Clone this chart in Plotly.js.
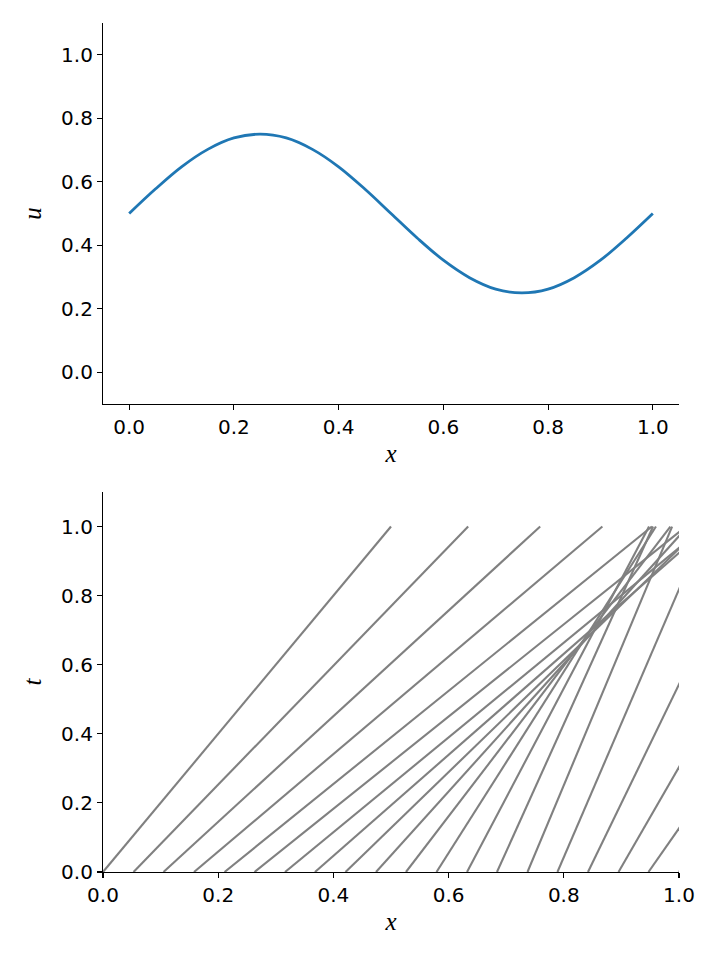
<!DOCTYPE html>
<html>
<head>
<meta charset="utf-8">
<script src="https://cdn.plot.ly/plotly-3.0.1.min.js"></script>
<style>html,body{margin:0;padding:0;background:#fff;}#chart{width:720px;height:960px;}</style>
</head>
<body>
<div id="chart"></div>
<script>
// Top panel: initial profile u(x)
var profileX = [0, 0.05, 0.1, 0.15, 0.2, 0.25, 0.3, 0.35, 0.4, 0.45, 0.5, 0.55, 0.6, 0.65, 0.7, 0.75, 0.8, 0.85, 0.9, 0.95, 1.0];
var profileU = [0.5, 0.577, 0.647, 0.702, 0.738, 0.75, 0.738, 0.702, 0.647, 0.577, 0.5, 0.423, 0.353, 0.298, 0.262, 0.25, 0.262, 0.298, 0.353, 0.423, 0.5];

// Bottom panel: characteristics, start x at t=0 and x reached at t=1
var charStartX = [0, 0.053, 0.105, 0.158, 0.211, 0.263, 0.316, 0.368, 0.421, 0.474, 0.526, 0.579, 0.632, 0.684, 0.737, 0.789, 0.842, 0.895, 0.947, 1.0];
var charEndX   = [0.5, 0.634, 0.759, 0.867, 0.953, 1.012, 1.045, 1.052, 1.040, 1.015, 0.985, 0.960, 0.948, 0.955, 0.988, 1.047, 1.133, 1.241, 1.366, 1.5];
var charT = [0, 1];

var cx = [], ct = [];
for (var i = 0; i < charStartX.length; i++) {
  cx.push(charStartX[i], charEndX[i], null);
  ct.push(charT[0], charT[1], null);
}

var traces = [
  {x: profileX, y: profileU, mode: 'lines', type: 'scatter', line: {color: '#1f77b4', width: 2.8, shape: 'spline', smoothing: 1}, xaxis: 'x', yaxis: 'y', hoverinfo: 'skip'},
  {x: cx, y: ct, mode: 'lines', type: 'scatter', line: {color: '#808080', width: 2.1}, xaxis: 'x2', yaxis: 'y2', connectgaps: false, hoverinfo: 'skip'}
];

var tickFont = {family: 'DejaVu Sans', size: 20, color: '#000'};
var titleFont = {family: 'Liberation Serif', size: 25, color: '#000'};
function ax(extra) {
  var a = {
    showgrid: false, zeroline: false, showline: true, linecolor: '#000', linewidth: 1.1,
    ticks: 'outside', ticklen: 5, tickwidth: 1.1, tickcolor: '#000',
    tickfont: tickFont, tickformat: '.1f', mirror: false, automargin: false
  };
  for (var k in extra) a[k] = extra[k];
  return a;
}

var layout = {
  width: 720, height: 960,
  margin: {l: 103, r: 41, t: 23, b: 88},
  paper_bgcolor: '#fff', plot_bgcolor: '#fff',
  showlegend: false,
  xaxis: ax({domain: [0, 1], range: [-0.05, 1.05], tick0: 0, dtick: 0.2, anchor: 'y', title: {text: '<i>x</i>', font: titleFont, standoff: 6}}),
  yaxis: ax({domain: [0.5512, 1], range: [-0.1, 1.1], tick0: 0, dtick: 0.2, anchor: 'x', title: {text: '<i>u</i>', font: titleFont, standoff: 12}}),
  xaxis2: ax({domain: [0, 1], range: [0, 1], tick0: 0, dtick: 0.2, anchor: 'y2', title: {text: '<i>x</i>', font: titleFont, standoff: 6}}),
  yaxis2: ax({domain: [0, 0.4476], range: [0, 1.1], tick0: 0, dtick: 0.2, anchor: 'x2', title: {text: '<i>t</i>', font: titleFont, standoff: 12}})
};

Plotly.newPlot('chart', traces, layout, {staticPlot: true, displayModeBar: false});
</script>
</body>
</html>
